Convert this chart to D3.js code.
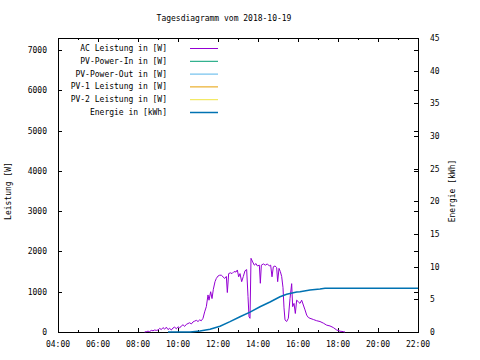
<!DOCTYPE html>
<html>
<head>
<meta charset="utf-8">
<script src="https://cdn.jsdelivr.net/npm/d3@7"></script>
<style>
  body { margin: 0; background: #fff; }
  svg { display: block; }
</style>
</head>
<body>
<div id="chart"></div>
<script>
// Tagesdiagramm: AC Leistung (W) on left axis, Energie (kWh) on right axis
var width = 480, height = 360;
var margin = {left: 58, right: 62, top: 38, bottom: 28};
var innerWidth = width - margin.left - margin.right;   // 360
var innerHeight = height - margin.top - margin.bottom; // 294
var fontFamily = '"DejaVu Sans Mono", monospace';
var fontSize = 8;

var title = 'Tagesdiagramm vom 2018-10-19';
var day = '2018-10-19';

// legend entries (gnuplot default colours)
var seriesNames = ['AC Leistung in [W]', 'PV-Power-In in [W]', 'PV-Power-Out in [W]',
                   'PV-1 Leistung in [W]', 'PV-2 Leistung in [W]', 'Energie in [kWh]'];
var seriesColors = ['#9400d3', '#009e73', '#56b4e9', '#e69f00', '#f0e442', '#0072b2'];

// AC power
var acTimes = ['08:20','08:25','08:30','08:35','08:40','08:45','08:50','08:55','09:00','09:05',
  '09:10','09:15','09:20','09:25','09:30','09:35','09:40','09:45','09:50','09:55',
  '10:00','10:05','10:10','10:15','10:20','10:25','10:30','10:35','10:40','10:45',
  '10:50','10:55','11:00','11:05','11:10','11:15','11:20','11:25','11:30','11:33',
  '11:38','11:42','11:46','11:51','11:55','12:00','12:05','12:10','12:15','12:20',
  '12:25','12:28','12:32','12:37','12:42','12:48','12:54','12:58','13:02','13:06',
  '13:11','13:16','13:21','13:26','13:30','13:33','13:36','13:39','13:44','13:49',
  '13:54','13:58','14:04','14:07','14:10','14:16','14:22','14:28','14:34','14:38',
  '14:42','14:46','14:51','14:56','14:59','15:03','15:07','15:11','15:15','15:18',
  '15:21','15:26','15:31','15:36','15:41','15:44','15:48','15:52','15:56','16:01',
  '16:06','16:11','16:16','16:21','16:26','16:31','16:36','16:46','16:56','17:06',
  '17:16','17:26','17:36','17:46','17:56','18:06','18:16','18:21'];
var acWatts = [0,10,20,10,40,30,50,40,50,90,
  60,110,70,120,60,90,50,100,120,80,
  130,100,150,180,140,190,210,230,200,250,
  270,290,260,300,280,340,500,630,920,790,
  1000,830,1060,1250,1330,1390,1410,1410,1370,1330,
  1380,980,1450,1470,1450,1500,1490,1540,1370,1450,
  1250,1380,1520,1550,880,380,340,1830,1740,1660,
  1700,1640,1660,1210,1660,1690,1660,1690,1640,1660,
  1370,1620,1640,1600,1250,1580,1500,1380,1100,600,
  300,260,340,830,1200,630,710,460,790,750,
  710,790,670,550,420,360,340,310,280,260,
  220,170,150,110,50,20,10,0];

// cumulative energy
var energyTimes = ['09:30','10:36','11:06','11:36','12:06','12:36','13:06','13:36','14:06',
  '14:36','15:06','15:26','15:56','16:06','16:36','17:06','17:21','22:00'];
var energyKWh = [0,0,0.15,0.41,0.88,1.58,2.34,3.05,3.87,4.59,5.4,5.77,6.12,6.17,6.43,6.58,6.69,6.69];

// no data for these on this day
var pvInTimes = [], pvInWatts = [];
var pvOutTimes = [], pvOutWatts = [];
var pv1Times = [], pv1Watts = [];
var pv2Times = [], pv2Watts = [];

var yTicks = [0,1000,2000,3000,4000,5000,6000,7000];
var y2Ticks = [0,5,10,15,20,25,30,35,40,45];

var parseTime = d3.timeParse('%Y-%m-%d %H:%M');
function t(s) { return parseTime(day + ' ' + s); }

var svg = d3.select('#chart').append('svg')
            .attr('width', width)
            .attr('height', height)
            .attr('font-family', fontFamily)
            .attr('font-size', fontSize);

var g = svg.append('g')
           .attr('transform', 'translate(' + margin.left + ',' + margin.top + ')');

var xScale = d3.scaleTime()
               .domain([t('04:00'), t('22:00')])
               .range([0, innerWidth]);
var yScale = d3.scaleLinear()
               .domain([0, 7300])
               .range([innerHeight, 0]);
var y2Scale = d3.scaleLinear()
               .domain([0, 45])
               .range([innerHeight, 0]);

var majorX = d3.timeHour.every(2).range(t('04:00'), d3.timeMinute.offset(t('22:00'), 1));
var minorX = d3.timeHour.every(1).range(t('04:00'), d3.timeMinute.offset(t('22:00'), 1));

// gnuplot style: ticks point inward, mirrored on top and right
function tickMarks(axis, tf, size) {
  return g.append('g').attr('transform', tf).call(axis.tickSize(-size).tickFormat(''));
}
tickMarks(d3.axisBottom(xScale).tickValues(minorX), 'translate(0,' + innerHeight + ')', 2);
tickMarks(d3.axisBottom(xScale).tickValues(majorX), 'translate(0,' + innerHeight + ')', 4);
tickMarks(d3.axisTop(xScale).tickValues(minorX), 'translate(0,0)', 2);
tickMarks(d3.axisTop(xScale).tickValues(majorX), 'translate(0,0)', 4);
tickMarks(d3.axisLeft(yScale).tickValues(yTicks), 'translate(0,0)', 4);
tickMarks(d3.axisRight(yScale).tickValues(yTicks), 'translate(' + innerWidth + ',0)', 4);
tickMarks(d3.axisRight(y2Scale).tickValues(y2Ticks), 'translate(' + innerWidth + ',0)', 4);
g.selectAll('.tick text').remove();
g.selectAll('.domain').remove();
g.selectAll('.tick line').attr('stroke', '#000').attr('shape-rendering', 'crispEdges');

// tick labels
var xFormat = d3.timeFormat('%H:%M');
g.append('g').selectAll('text')
 .data(majorX).enter().append('text')
 .attr('x', function(d){ return xScale(d); })
 .attr('y', innerHeight + 15)
 .attr('text-anchor', 'middle')
 .text(function(d){ return xFormat(d); });
g.append('g').selectAll('text')
 .data(yTicks).enter().append('text')
 .attr('x', -11)
 .attr('y', function(d){ return yScale(d) + 3; })
 .attr('text-anchor', 'end')
 .text(function(d){ return d; });
g.append('g').selectAll('text')
 .data(y2Ticks).enter().append('text')
 .attr('x', innerWidth + 12)
 .attr('y', function(d){ return y2Scale(d) + 3; })
 .attr('text-anchor', 'start')
 .text(function(d){ return d; });

// border
g.append('rect')
 .attr('x', 0.5).attr('y', 0.5)
 .attr('width', innerWidth).attr('height', innerHeight)
 .attr('fill', 'none')
 .attr('stroke', '#000')
 .attr('shape-rendering', 'crispEdges');

// labels
svg.append('text')
   .attr('x', 224).attr('y', 21)
   .attr('text-anchor', 'middle')
   .text(title);
svg.append('text')
   .attr('transform', 'translate(11,191) rotate(-90)')
   .attr('text-anchor', 'middle')
   .text('Leistung [W]');
svg.append('text')
   .attr('transform', 'translate(455,191) rotate(-90)')
   .attr('text-anchor', 'middle')
   .text('Energie [kWh]');

// lines
var powerLine = d3.line()
                  .x(function(d){ return xScale(t(d[0])); })
                  .y(function(d){ return yScale(d[1]); });
var energyLine = d3.line()
                   .x(function(d){ return xScale(t(d[0])); })
                   .y(function(d){ return y2Scale(d[1]); });

var powerSeries = [
  [acTimes, acWatts, seriesColors[0]],
  [pvInTimes, pvInWatts, seriesColors[1]],
  [pvOutTimes, pvOutWatts, seriesColors[2]],
  [pv1Times, pv1Watts, seriesColors[3]],
  [pv2Times, pv2Watts, seriesColors[4]]
];

powerSeries.forEach(function(s){
  if (!s[0].length) return;
  g.append('path')
   .datum(d3.zip(s[0], s[1]))
   .attr('fill', 'none')
   .attr('stroke', s[2])
   .attr('stroke-width', 1)
   .attr('d', powerLine);
});

g.append('path')
 .datum(d3.zip(energyTimes, energyKWh))
 .attr('fill', 'none')
 .attr('stroke', seriesColors[5])
 .attr('stroke-width', 1.5)
 .attr('d', energyLine);

// legend
var legendG = svg.append('g');
seriesNames.forEach(function(name, i){
  var row = legendG.append('g')
                   .attr('transform', 'translate(0,' + (48 + i * 12.8) + ')');
  row.append('text')
     .attr('x', 167)
     .attr('y', 3)
     .attr('text-anchor', 'end')
     .text(name);
  row.append('line')
     .attr('x1', 190).attr('x2', 218)
     .attr('y1', 0.5).attr('y2', 0.5)
     .attr('stroke', seriesColors[i])
     .attr('stroke-width', i == 5 ? 1.5 : 1);
});
</script>
</body>
</html>
